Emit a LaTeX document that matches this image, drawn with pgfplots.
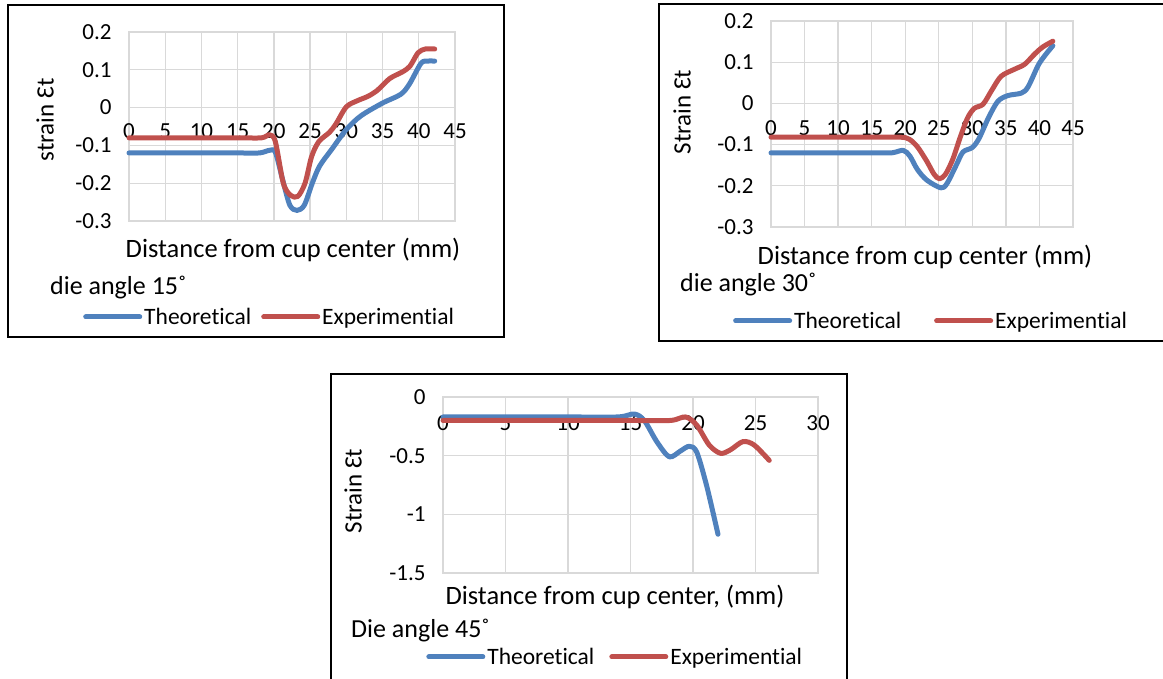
\documentclass[border=0pt]{standalone}
\usepackage{pgfplots}
\pgfplotsset{compat=1.18}
\usepackage{fontspec}
\setmainfont{Carlito}[Ligatures=NoCommon]
\newcommand\tickfont{\fontsize{23}{27}\selectfont}
\newcommand\labfont{\fontsize{26.5}{30}\selectfont}
\newcommand\ylabfont{\fontsize{25}{30}\selectfont}
\newcommand\notefont{\fontsize{26}{30}\selectfont}
\newcommand\legfont{\fontsize{23.5}{27}\selectfont}
\definecolor{exblue}{HTML}{4F81BD}
\definecolor{exred}{HTML}{C0504D}
\definecolor{exgrid}{HTML}{D9D9D9}
\pgfplotsset{exc/.style={
  scale only axis,
  grid=major,
  major grid style={draw=exgrid, line width=1.3pt},
  axis line style={draw=exgrid, line width=1.3pt},
  tick style={draw=none},
  ticklabel style={font=\tickfont},
  /pgf/number format/assume math mode=true,
  yticklabel style={xshift=-14pt},
  clip=false,
  legend style={draw=none, fill=none, font=\legfont, inner sep=0pt, legend columns=2, anchor=west},
  legend image code/.code={\draw[##1, line width=5pt, line cap=round] (0pt,0pt) -- (54pt,0pt);},
  every axis plot/.append style={line width=5pt, smooth, tension=0.5, line cap=round, line join=round},
}}

\pgfplotstableread{
x y
0 -0.12
5 -0.12
10 -0.12
15 -0.12
18 -0.12
19.4 -0.113
20.2 -0.118
21.2 -0.19
22.2 -0.258
23.2 -0.272
24.2 -0.258
25.3 -0.2
26.3 -0.155
28 -0.11
30 -0.058
32 -0.022
35 0.012
37.5 0.035
38.7 0.062
40.3 0.117
41.2 0.123
42.2 0.123
}\theoA
\pgfplotstableread{
x y
0 -0.08
5 -0.08
10 -0.08
15 -0.08
18.3 -0.08
19.4 -0.072
20.2 -0.09
21.3 -0.2
22.3 -0.232
23.3 -0.235
24.3 -0.2
25.2 -0.13
26.2 -0.09
27.7 -0.065
28.6 -0.042
30 0.002
31.5 0.018
33 0.03
34.3 0.046
36 0.077
37.8 0.095
38.8 0.11
39.9 0.145
40.9 0.155
42.2 0.155
}\expA
\pgfplotstableread{
x y
0 -0.12
5 -0.12
10 -0.12
15 -0.12
18 -0.12
19.7 -0.114
20.7 -0.128
21.8 -0.16
23.2 -0.186
25.3 -0.205
26.2 -0.195
27.6 -0.15
28.6 -0.118
30 -0.107
31 -0.085
32.4 -0.035
33.8 0.005
35.3 0.019
37.3 0.025
38.3 0.04
39.8 0.092
40.8 0.116
42 0.14
}\theoB
\pgfplotstableread{
x y
0 -0.082
5 -0.082
10 -0.082
15 -0.082
19.3 -0.082
20.6 -0.087
21.8 -0.105
23.2 -0.14
24.3 -0.172
25.1 -0.183
26 -0.172
27.1 -0.135
28.2 -0.082
29.3 -0.035
30.3 -0.012
31.6 -0.002
32.9 0.032
34.3 0.066
36.3 0.083
37.8 0.095
39.3 0.12
40.5 0.137
42 0.151
}\expB
\pgfplotstableread{
x y
0 -0.17
5 -0.17
10 -0.17
14 -0.17
15.3 -0.145
16.1 -0.2
17.1 -0.38
18.1 -0.51
19 -0.46
19.7 -0.42
20.3 -0.47
21.1 -0.76
22 -1.17
}\theoC
\pgfplotstableread{
x y
0 -0.2
5 -0.2
10 -0.2
15 -0.2
18.2 -0.2
19.4 -0.17
20.3 -0.24
21.3 -0.41
22.2 -0.48
23 -0.45
24 -0.38
24.9 -0.41
26.1 -0.54
}\expC

\begin{document}
\begin{tikzpicture}[x=1pt,y=1pt]
\useasboundingbox (0,0) rectangle (1163,679);
% frames
\draw[line width=1.5pt] (8,342) rectangle (504,674);
\draw[line width=1.5pt] (659,338) rectangle (1175,675);
\draw[line width=1.5pt] (331,-20) rectangle (847,305);

% ---------- chart 1 ----------
\begin{axis}[exc, at={(129pt,458pt)}, anchor=south west, width=326pt, height=189pt,
  xmin=0, xmax=45, ymin=-0.3, ymax=0.2,
  xtick={0,5,...,45}, ytick={-0.3,-0.2,-0.1,0,0.1,0.2},
  yticklabels={-0.3,-0.2,-0.1,0,0.1,0.2},
  xticklabel style={yshift=101pt},
  legend style={at={(-0.141,-0.508)}, /tikz/every even column/.append style={column sep=8pt}}]
\addplot[exblue] table[x=x,y=y] {\theoA};
\addlegendentry{Theoretical}
\addplot[exred] table[x=x,y=y] {\expA};
\addlegendentry{Experimential}
\end{axis}
\node[rotate=90, font=\ylabfont] at (45,559) {strain Ɛt};
\node[font=\labfont, anchor=base] at (293,421) {Distance from cup center (mm)};
\node[font=\notefont, anchor=base west, inner sep=0pt] at (50,384) {die angle 15˚};

% ---------- chart 2 ----------
\begin{axis}[exc, at={(771pt,452pt)}, anchor=south west, width=302pt, height=206pt,
  xmin=0, xmax=45, ymin=-0.3, ymax=0.2,
  xtick={0,5,...,45}, ytick={-0.3,-0.2,-0.1,0,0.1,0.2},
  yticklabels={-0.3,-0.2,-0.1,0,0.1,0.2},
  xticklabel style={yshift=110pt},
  legend style={at={(-0.126,-0.456)}, /tikz/every even column/.append style={column sep=31pt}}]
\addplot[exblue] table[x=x,y=y] {\theoB};
\addlegendentry{Theoretical}
\addplot[exred] table[x=x,y=y] {\expB};
\addlegendentry{Experimential}
\end{axis}
\node[rotate=90, font=\ylabfont] at (682,567) {Strain Ɛt};
\node[font=\labfont, anchor=base] at (925,414) {Distance from cup center (mm)};
\node[font=\notefont, anchor=base west, inner sep=0pt] at (680,387) {die angle 30˚};

% ---------- chart 3 ----------
\begin{axis}[exc, at={(443pt,106pt)}, anchor=south west, width=375pt, height=176pt,
  xmin=0, xmax=30, ymin=-1.5, ymax=0,
  xtick={0,5,...,30}, ytick={-1.5,-1,-0.5,0},
  yticklabels={-1.5,-1,-0.5,0},
  xticklabel style={yshift=160.7pt},
  legend style={at={(-0.045,-0.477)}, /tikz/every even column/.append style={column sep=13pt}}]
\addplot[exblue] table[x=x,y=y] {\theoC};
\addlegendentry{Theoretical}
\addplot[exred] table[x=x,y=y] {\expC};
\addlegendentry{Experimential}
\end{axis}
\node[rotate=90, font=\ylabfont] at (353,188) {Strain Ɛt};
\node[font=\labfont, anchor=base] at (615,74) {Distance from cup center, (mm)};
\node[font=\notefont, anchor=base west, inner sep=0pt] at (351,41) {Die angle 45˚};
\end{tikzpicture}
\end{document}
